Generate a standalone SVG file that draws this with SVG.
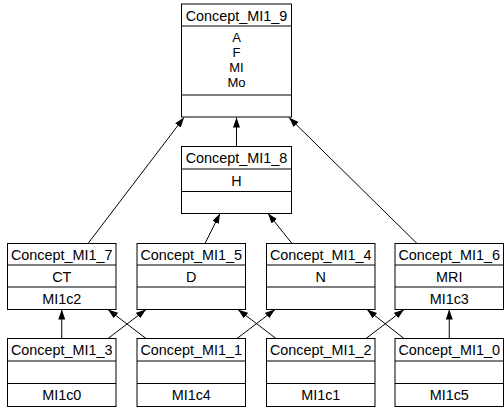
<svg xmlns="http://www.w3.org/2000/svg" width="504" height="412" viewBox="0 0 504 412">
<style>
.box{fill:#fff;stroke:#000;stroke-width:1}
.sep{stroke:#000;stroke-width:1}
text{font-family:"Liberation Sans",Arial,sans-serif;font-size:14.4px;fill:#000;text-anchor:middle}
text.att{font-size:13px}
.edge{stroke:#000;stroke-width:1;fill:none;marker-end:url(#arr)}
</style>
<defs>
<marker id="arr" markerUnits="userSpaceOnUse" markerWidth="11" markerHeight="8" refX="10" refY="3.5" orient="auto">
<path d="M0,0 L10,3.5 L0,7 z" fill="#000"/>
</marker>
</defs>
<rect width="504" height="412" fill="#fff"/>
<g id="connectors">
<line class="edge" x1="236.5" y1="146.5" x2="236.5" y2="117.5"/>
<line class="edge" x1="88" y1="243.5" x2="184" y2="117.5"/>
<line class="edge" x1="417" y1="243.5" x2="289" y2="117.5"/>
<line class="edge" x1="205" y1="243.5" x2="220" y2="213.5"/>
<line class="edge" x1="292" y1="243.5" x2="268" y2="213.5"/>
<line class="edge" x1="61.75" y1="338.5" x2="61.75" y2="309.5"/>
<line class="edge" x1="108" y1="338.5" x2="146" y2="309.5"/>
<line class="edge" x1="146" y1="338.5" x2="108" y2="309.5"/>
<line class="edge" x1="237" y1="338.5" x2="275" y2="309.5"/>
<line class="edge" x1="276" y1="338.5" x2="238" y2="309.5"/>
<line class="edge" x1="366" y1="338.5" x2="404" y2="309.5"/>
<line class="edge" x1="404" y1="338.5" x2="367" y2="309.5"/>
<line class="edge" x1="449.25" y1="338.5" x2="449.25" y2="309.5"/>
</g>
<g id="Concept_MI1_9">
<rect class="box" x="181.5" y="4" width="110" height="113"/>
<line class="sep" x1="181.5" y1="26" x2="291.5" y2="26"/>
<line class="sep" x1="181.5" y1="95" x2="291.5" y2="95"/>
<text x="236.5" y="20.5">Concept_MI1_9</text>
<text class="att" x="236.5" y="41.5">A</text>
<text class="att" x="236.5" y="56.5">F</text>
<text class="att" x="236.5" y="71.5">MI</text>
<text class="att" x="236.5" y="86.5">Mo</text>
</g>
<g id="Concept_MI1_8">
<rect class="box" x="181.5" y="146.5" width="110" height="67"/>
<line class="sep" x1="181.5" y1="169" x2="291.5" y2="169"/>
<line class="sep" x1="181.5" y1="191.5" x2="291.5" y2="191.5"/>
<text x="236.5" y="163">Concept_MI1_8</text>
<text x="236.5" y="185.5">H</text>
</g>
<g id="Concept_MI1_7">
<rect class="box" x="7.5" y="243.5" width="108.5" height="66"/>
<line class="sep" x1="7.5" y1="265" x2="116" y2="265"/>
<line class="sep" x1="7.5" y1="287" x2="116" y2="287"/>
<text x="61.75" y="259.5">Concept_MI1_7</text>
<text x="61.75" y="281.5">CT</text>
<text x="61.75" y="303.5">MI1c2</text>
</g>
<g id="Concept_MI1_5">
<rect class="box" x="137" y="243.5" width="108.5" height="66"/>
<line class="sep" x1="137" y1="265" x2="245.5" y2="265"/>
<line class="sep" x1="137" y1="287" x2="245.5" y2="287"/>
<text x="191.25" y="259.5">Concept_MI1_5</text>
<text x="191.25" y="281.5">D</text>
</g>
<g id="Concept_MI1_4">
<rect class="box" x="266.5" y="243.5" width="108.5" height="66"/>
<line class="sep" x1="266.5" y1="265" x2="375" y2="265"/>
<line class="sep" x1="266.5" y1="287" x2="375" y2="287"/>
<text x="320.75" y="259.5">Concept_MI1_4</text>
<text x="320.75" y="281.5">N</text>
</g>
<g id="Concept_MI1_6">
<rect class="box" x="395" y="243.5" width="108.5" height="66"/>
<line class="sep" x1="395" y1="265" x2="503.5" y2="265"/>
<line class="sep" x1="395" y1="287" x2="503.5" y2="287"/>
<text x="449.25" y="259.5">Concept_MI1_6</text>
<text x="449.25" y="281.5">MRI</text>
<text x="449.25" y="303.5">MI1c3</text>
</g>
<g id="Concept_MI1_3">
<rect class="box" x="7.5" y="338.5" width="108.5" height="68"/>
<line class="sep" x1="7.5" y1="361" x2="116" y2="361"/>
<line class="sep" x1="7.5" y1="383.5" x2="116" y2="383.5"/>
<text x="61.75" y="355">Concept_MI1_3</text>
<text x="61.75" y="400">MI1c0</text>
</g>
<g id="Concept_MI1_1">
<rect class="box" x="137" y="338.5" width="108.5" height="68"/>
<line class="sep" x1="137" y1="361" x2="245.5" y2="361"/>
<line class="sep" x1="137" y1="383.5" x2="245.5" y2="383.5"/>
<text x="191.25" y="355">Concept_MI1_1</text>
<text x="191.25" y="400">MI1c4</text>
</g>
<g id="Concept_MI1_2">
<rect class="box" x="266.5" y="338.5" width="108.5" height="68"/>
<line class="sep" x1="266.5" y1="361" x2="375" y2="361"/>
<line class="sep" x1="266.5" y1="383.5" x2="375" y2="383.5"/>
<text x="320.75" y="355">Concept_MI1_2</text>
<text x="320.75" y="400">MI1c1</text>
</g>
<g id="Concept_MI1_0">
<rect class="box" x="395" y="338.5" width="108.5" height="68"/>
<line class="sep" x1="395" y1="361" x2="503.5" y2="361"/>
<line class="sep" x1="395" y1="383.5" x2="503.5" y2="383.5"/>
<text x="449.25" y="355">Concept_MI1_0</text>
<text x="449.25" y="400">MI1c5</text>
</g>
</svg>
